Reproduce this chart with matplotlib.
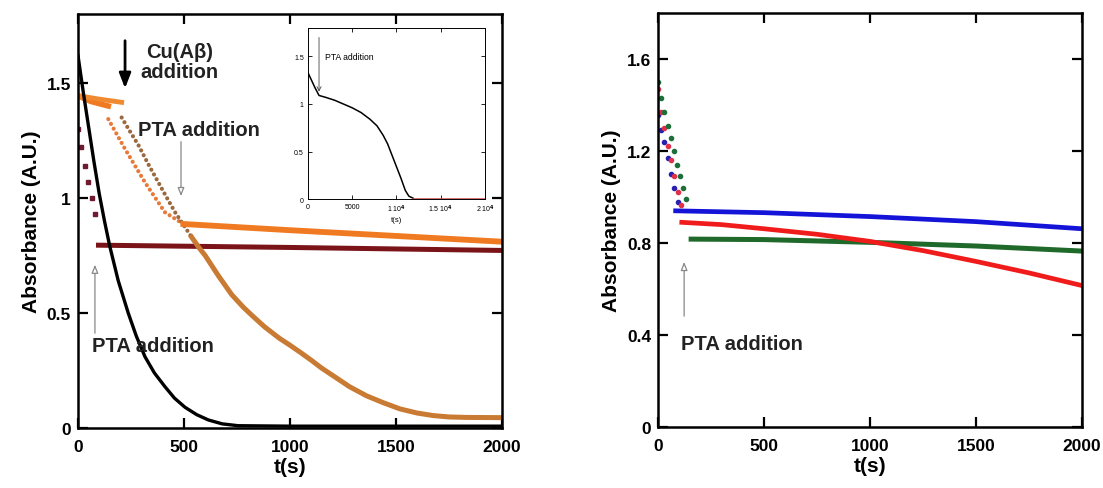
import matplotlib
matplotlib.use('Agg')
import matplotlib.pyplot as plt

plt.rcParams['font.family'] = ['Liberation Sans', 'DejaVu Sans']
plt.rcParams['font.weight'] = 'bold'

# ---- left panel data ----
black_t = [0, 25, 50, 75, 100, 125, 150, 190, 237, 275, 316, 360, 410, 455, 505,
           560, 615, 680, 755, 1000, 1500, 2000]
black_a = [1.62, 1.46, 1.31, 1.16, 1.02, 0.90, 0.79, 0.64, 0.50, 0.40, 0.31, 0.24,
           0.18, 0.13, 0.09, 0.058, 0.035, 0.018, 0.01, 0.008, 0.008, 0.008]

maroon_dot_t = [0, 16, 32, 48, 64, 80]
maroon_dot_a = [1.30, 1.22, 1.14, 1.07, 1.00, 0.93]
maroon_t = [85, 1000, 2000]
maroon_a = [0.795, 0.785, 0.772]

# orange run: flat part, dotted decay after PTA, then slow line
orange_flat_t = [0, 60, 143]
orange_flat_a = [1.445, 1.42, 1.40]
orange_dot_t = [143, 222, 316, 410, 497]
orange_dot_a = [1.343, 1.213, 1.068, 0.938, 0.887]
orange_t = [497, 1000, 1500, 2000]
orange_a = [0.887, 0.860, 0.835, 0.810]

# darker orange run: flat part, Cu(Abeta) addition, decay to zero
dark_flat_t = [0, 100, 206]
dark_flat_a = [1.445, 1.43, 1.416]
dark_dot_t = [206, 245, 285, 330, 379, 420, 458, 500, 536]
dark_dot_a = [1.35, 1.29, 1.23, 1.15, 1.068, 1.0, 0.938, 0.88, 0.83]
dark_t = [536, 570, 600, 660, 725, 780, 826, 880, 950, 1000, 1047, 1100, 1150,
          1204, 1280, 1361, 1440, 1519, 1600, 1676, 1750, 1833, 2000]
dark_a = [0.83, 0.785, 0.75, 0.665, 0.58, 0.525, 0.485, 0.44, 0.39, 0.36, 0.33,
          0.295, 0.26, 0.227, 0.18, 0.14, 0.11, 0.083, 0.065, 0.054, 0.048, 0.046, 0.045]

# ---- inset data ----
inset_t = [0, 400, 800, 1250, 2000, 3000, 4000, 5000, 6000, 7000, 7800, 8500, 9000,
           9500, 10000, 10500, 11000, 11400, 11900]
inset_a = [1.33, 1.25, 1.17, 1.09, 1.07, 1.04, 1.0, 0.96, 0.91, 0.84, 0.77, 0.67,
           0.58, 0.46, 0.34, 0.22, 0.09, 0.03, 0.007]
inset_tail_t = [11900, 20000]
inset_tail_a = [0.005, 0.005]

# ---- right panel data ----
blue_dot_t = [0, 14, 30, 45, 60, 76, 92]
blue_dot_a = [1.355, 1.29, 1.24, 1.17, 1.10, 1.04, 0.98]
red_dot_t = [0, 15, 30, 45, 60, 76, 92, 106]
red_dot_a = [1.47, 1.37, 1.30, 1.22, 1.16, 1.09, 1.02, 0.965]
green_dot_t = [0, 15, 30, 46, 61, 77, 90, 104, 118, 131]
green_dot_a = [1.50, 1.43, 1.37, 1.31, 1.255, 1.20, 1.14, 1.09, 1.04, 0.99]

blue_t = [83, 500, 1000, 1500, 2000]
blue_a = [0.940, 0.932, 0.915, 0.893, 0.862]
red_t = [112, 300, 500, 750, 1000, 1250, 1500, 1750, 2000]
red_a = [0.890, 0.880, 0.862, 0.838, 0.807, 0.767, 0.720, 0.670, 0.615]
green_t = [156, 500, 1000, 1500, 2000]
green_a = [0.817, 0.815, 0.803, 0.787, 0.765]

left_yticks = [0, 0.5, 1, 1.5]
left_yticklabels = ['0', '0.5', '1', '1.5']
right_yticks = [0, 0.4, 0.8, 1.2, 1.6]
right_yticklabels = ['0', '0.4', '0.8', '1.2', '1.6']
xticks = [0, 500, 1000, 1500, 2000]
inset_xticks = [0, 5000, 10000, 15000, 20000]
inset_xticklabels = ['0', '5000', r'1 10$^4$', r'1.5 10$^4$', r'2 10$^4$']
inset_yticks = [0, 0.5, 1, 1.5]

fig = plt.figure(figsize=(11.03, 4.89), dpi=100)
ax1 = fig.add_axes([0.0707, 0.1227, 0.3844, 0.8466])
ax2 = fig.add_axes([0.5966, 0.1247, 0.3844, 0.8466])


def style_main(ax, yticks, ylabels):
    ax.set_xlim(0, 2000)
    ax.set_ylim(0, 1.8)
    ax.set_xticks(xticks)
    ax.set_xticklabels([str(v) for v in xticks])
    ax.set_yticks(yticks)
    ax.set_yticklabels(ylabels)
    ax.tick_params(direction='in', length=7, width=1.6, top=True, right=True,
                   labelsize=12.5, pad=5)
    ax.tick_params(axis='x', pad=8)
    for s in ax.spines.values():
        s.set_linewidth(1.8)
    ax.set_xlabel('t(s)', fontsize=15, fontweight='bold', labelpad=2)
    ax.set_ylabel('Absorbance (A.U.)', fontsize=15, fontweight='bold', labelpad=4)


dots = dict(linestyle=(0, (0.01, 1.3)), dash_capstyle='round')

# left panel
ax1.plot(maroon_dot_t, maroon_dot_a, 's', color='#6e1a30', ms=3.2)
ax1.plot(maroon_t, maroon_a, color='#7a1418', lw=3.6, solid_capstyle='butt')
ax1.plot(orange_flat_t, orange_flat_a, color='#f07a22', lw=4)
ax1.plot(dark_flat_t, dark_flat_a, color='#f08a30', lw=3.5)
ax1.plot(orange_dot_t, orange_dot_a, color='#e77a3a', lw=3, **dots)
ax1.plot(dark_dot_t, dark_dot_a, color='#9a6a3e', lw=3, **dots)
ax1.plot(dark_t, dark_a, color='#c97a33', lw=3.6)
ax1.plot(orange_t, orange_a, color='#f07a22', lw=4.2)
ax1.plot(black_t, black_a, color='black', lw=2.4)
style_main(ax1, left_yticks, left_yticklabels)

ax1.annotate('', xy=(222, 1.465), xytext=(222, 1.696), annotation_clip=False,
             arrowprops=dict(arrowstyle='-|>,head_width=0.35,head_length=0.9',
                             color='black', lw=2))
ax1.text(478, 1.595, 'Cu(A\u03b2)\naddition', fontsize=14.5, fontweight='bold',
         ha='center', va='center', ma='center', linespacing=1.05, color='#222222')
ax1.text(283, 1.30, 'PTA addition', fontsize=14.5, fontweight='bold',
         ha='left', va='center', color='#222222')
ax1.annotate('', xy=(486, 0.996), xytext=(486, 1.257),
             arrowprops=dict(arrowstyle='-|>,head_width=0.2,head_length=0.5',
                             color='#888888', lw=0.9, fc='white'))
ax1.text(66, 0.357, 'PTA addition', fontsize=14.5, fontweight='bold',
         ha='left', va='center', color='#222222')
ax1.annotate('', xy=(80, 0.722), xytext=(80, 0.40),
             arrowprops=dict(arrowstyle='-|>,head_width=0.2,head_length=0.5',
                             color='#888888', lw=0.9, fc='white'))

# inset
axi = fig.add_axes([0.2792, 0.591, 0.1605, 0.3497])
axi.plot(inset_t, inset_a, color='black', lw=1.1)
axi.plot(inset_tail_t, inset_tail_a, color='#d04a4a', lw=1.1)
axi.set_xlim(0, 20000)
axi.set_ylim(0, 1.8)
axi.set_xticks(inset_xticks)
axi.set_xticklabels(inset_xticklabels)
axi.set_yticks(inset_yticks)
axi.set_yticklabels(left_yticklabels)
axi.tick_params(direction='in', length=3, width=0.6, top=True, right=True,
                labelsize=5, pad=3)
for lbl in axi.get_xticklabels() + axi.get_yticklabels():
    lbl.set_fontweight('normal')
for s in axi.spines.values():
    s.set_linewidth(0.7)
axi.set_xlabel('t(s)', fontsize=5.5, fontweight='normal', labelpad=1)
axi.text(1900, 1.5, 'PTA addition', fontsize=6.2, fontweight='normal', va='center')
axi.annotate('', xy=(1250, 1.10), xytext=(1250, 1.73),
             arrowprops=dict(arrowstyle='->,head_width=0.15,head_length=0.3',
                             color='#444444', lw=0.6))

# right panel
ax2.plot(blue_dot_t, blue_dot_a, 'o', color='#2a20b0', ms=3)
ax2.plot(red_dot_t, red_dot_a, 'o', color='#e0304a', ms=3)
ax2.plot(green_dot_t, green_dot_a, 'o', color='#1e6e3a', ms=3)
ax2.plot(green_t, green_a, color='#1f6a2a', lw=3.6)
ax2.plot(red_t, red_a, color='#f01c1c', lw=3.4)
ax2.plot(blue_t, blue_a, color='#1414d8', lw=3.4)
style_main(ax2, right_yticks, right_yticklabels)
ax2.text(108, 0.361, 'PTA addition', fontsize=14.5, fontweight='bold',
         ha='left', va='center', color='#222222')
ax2.annotate('', xy=(123, 0.73), xytext=(123, 0.47),
             arrowprops=dict(arrowstyle='-|>,head_width=0.2,head_length=0.5',
                             color='#888888', lw=0.9, fc='white'))

fig.savefig('out.png', dpi=100)
